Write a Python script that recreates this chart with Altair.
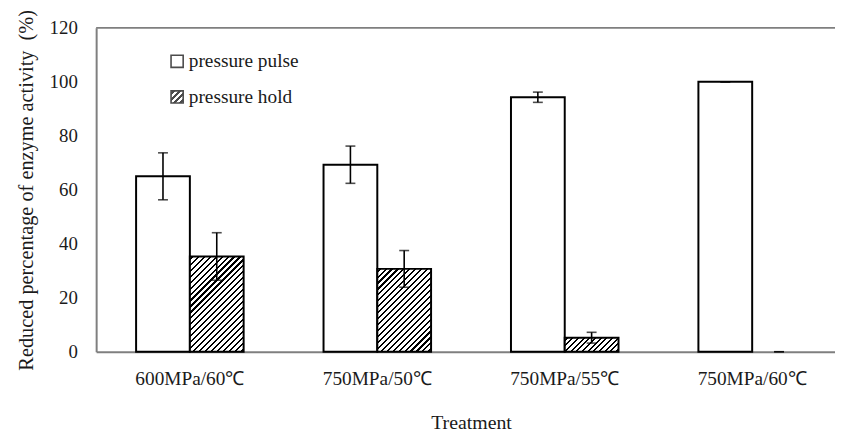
import json
import math
import altair as alt
import pandas as pd

# ---- data ----
treatments = ["600MPa/60℃", "750MPa/50℃", "750MPa/55℃", "750MPa/60℃"]
series = ["pressure pulse", "pressure hold"]
pulse_mean = [65.0, 69.3, 94.3, 100.0]
pulse_err = [8.7, 6.9, 1.9, 0.0]
hold_mean = [35.3, 30.7, 5.2, 0.0]
hold_err = [8.8, 6.8, 2.0, 0.0]
y_ticks = [0, 20, 40, 60, 80, 100, 120]

# ---- layout constants ----
FONT = "Liberation Serif"
PLOT_W = 746          # visible plot width (window is cropped like the reference)
PLOT_H = 327
X_RANGE = 757         # full extent of the four category bands
OFF_PAD = 0.743       # outer padding of the offset scale
Y_MAX = 120
BAR_W = X_RANGE / len(treatments) / (2 + 2 * OFF_PAD)
YTITLE = "Reduced percentage of enzyme activity\u00a0\u00a0(%)"


def hatch(w, h, period=4.2, line=1.5):
    """Diagonal '/' hatch made of a hard-stop linear gradient (bbox units)."""
    r = h / w
    s = (1 + r) / (1 + r * r)
    d = (w + h) / math.sqrt(2)
    n = max(1, round(d / period))
    b = line / d
    stops = []
    for k in range(n):
        c = (k + 0.5) / n
        lo, hi = max(0.0, c - b / 2), min(1.0, c + b / 2)
        stops += [
            {"offset": lo, "color": "white"},
            {"offset": lo, "color": "black"},
            {"offset": hi, "color": "black"},
            {"offset": hi, "color": "white"},
        ]
    return {"gradient": "linear", "x1": 0, "y1": 0, "x2": s, "y2": s * r, "stops": stops}


rows = []
for i, t in enumerate(treatments):
    for name, means, errs in ((series[0], pulse_mean, pulse_err), (series[1], hold_mean, hold_err)):
        v = means[i]
        h_px = v / Y_MAX * PLOT_H
        if name == series[1] and h_px > 0:
            fillv = hatch(BAR_W, h_px)
        else:
            fillv = "white"
        rows.append({"treat": t, "series": name, "value": v, "err": errs[i], "fillv": fillv})
df = pd.DataFrame(rows)

x_enc = alt.X(
    "treat:N",
    sort=treatments,
    scale=alt.Scale(domain=treatments, range=[0, X_RANGE], paddingInner=0, paddingOuter=0),
    title="Treatment",
)
x_off = alt.XOffset(
    "series:N",
    sort=series,
    scale=alt.Scale(domain=series, paddingInner=0, paddingOuter=OFF_PAD),
)
y_scale = alt.Scale(domain=[0, Y_MAX], nice=False, zero=True)

legend_swatch = hatch(12, 12, period=4.0, line=1.8)

base = alt.Chart(df)

bars = base.transform_filter("datum.value > 0").mark_bar(stroke="black", strokeWidth=2).encode(
    x=x_enc,
    xOffset=x_off,
    y=alt.Y("value:Q", scale=y_scale, title=YTITLE, axis=alt.Axis(values=y_ticks)),
    fill=alt.Fill("fillv:N", scale=None),
)

err = base.transform_calculate(
    lo="datum.value - datum.err", hi="datum.value + datum.err"
)

whisk = err.mark_rule(color="black", strokeWidth=1.6).encode(
    x=x_enc,
    xOffset=x_off,
    y=alt.Y("lo:Q", scale=y_scale, title=YTITLE),
    y2="hi:Q",
)
cap_hi = err.mark_tick(color="black", size=10, thickness=1.6).encode(
    x=x_enc, xOffset=x_off, y=alt.Y("hi:Q", scale=y_scale, title=YTITLE)
)
cap_lo = err.mark_tick(color="black", size=10, thickness=1.6).encode(
    x=x_enc, xOffset=x_off, y=alt.Y("lo:Q", scale=y_scale, title=YTITLE)
)

# legend carrier: invisible squares, only their legend is shown
legend_layer = alt.Chart(pd.DataFrame({"series": series})).mark_square(size=0).encode(
    fill=alt.Fill(
        "series:N",
        sort=series,
        scale=alt.Scale(domain=series, range=["white", alt.ExprRef(json.dumps(legend_swatch))]),
        legend=alt.Legend(
            title=None,
            orient="none",
            legendX=72,
            legendY=24,
            symbolType="square",
            symbolSize=150,
            symbolStrokeWidth=1.6,
            symbolStrokeColor="black",
            labelFont=FONT,
            labelFontSize=19.5,
            labelColor="#1a1a1a",
            labelOffset=2,
            rowPadding=15,
            padding=0,
        ),
    )
)

frame_top = alt.Chart(pd.DataFrame({"k": [0]})).mark_rule(color="#7f7f7f", strokeWidth=2).encode(
    x=alt.value(0), x2=alt.value("width"), y=alt.value(0)
)

chart = (
    alt.layer(bars, whisk, cap_hi, cap_lo, frame_top, legend_layer)
    .resolve_scale(fill="independent")
    .properties(
        width=PLOT_W,
        height=PLOT_H,
        autosize=alt.AutoSizeParams(type="none"),
        padding={"left": 89, "top": 18, "right": 0, "bottom": 82},
    )
    .configure_view(stroke=None)
    .configure_axis(
        labelFont=FONT,
        titleFont=FONT,
        labelColor="#1a1a1a",
        titleColor="#1a1a1a",
        titleFontWeight="normal",
        domainColor="#7f7f7f",
        domainWidth=2,
        ticks=False,
        tickSize=0,
        grid=False,
    )
    .configure_axisX(labelAngle=0, labelFontSize=19.5, titleFontSize=20, labelPadding=18, titlePadding=25)
    .configure_axisY(labelFontSize=19, titleFontSize=20.5, labelPadding=19, titlePadding=13)
)

chart.save("out.html", embed_options={"renderer": "svg", "actions": False})
